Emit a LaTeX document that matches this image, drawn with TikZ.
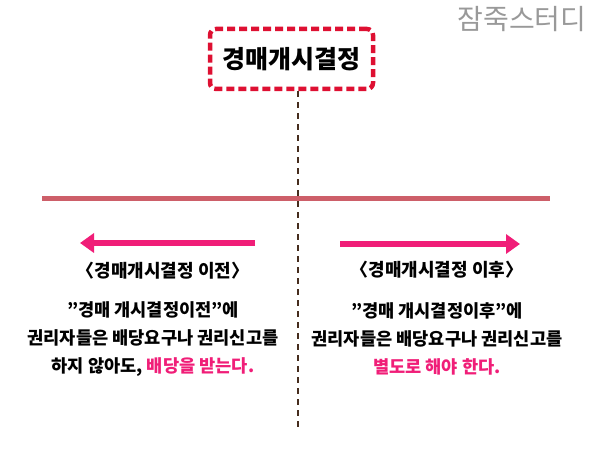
\documentclass[tikz,border=0pt]{standalone}
\usepackage{fontspec}
\setmainfont{Noto Sans CJK KR}
\usetikzlibrary{arrows.meta}
\definecolor{boxred}{RGB}{222,16,50}
\definecolor{stembrown}{RGB}{70,45,30}
\definecolor{axisred}{RGB}{205,95,105}
\definecolor{hotpink}{RGB}{240,30,120}
\tikzset{
  pinkarrow/.style={hotpink,line width=6pt,-{Triangle[length=14pt,width=19pt]}},
  period/.style={font=\bfseries\fontsize{18}{18}\selectfont},
  body/.style={align=center,font=\bfseries\fontsize{17.6}{28}\selectfont}
}

\begin{document}
\begin{tikzpicture}[x=1pt,y=-1pt]
\useasboundingbox (0,0) rectangle (600,454);
\node[text=black!40,font=\fontsize{28}{28}\selectfont] (study) at (522,19) {잠죽스터디};
\node[draw=boxred,line width=4.5pt,dash pattern=on 8pt off 4pt,rounded corners=6pt,minimum width=163pt,minimum height=60pt,font=\bfseries\fontsize{25}{25}\selectfont] (title) at (291.5,59) {경매개시결정};

\coordinate (stembot) at (298,430);
\coordinate (axisL) at (42,199);
\coordinate (axisR) at (550,199);
\coordinate (beforeL) at (80,243);
\coordinate (beforeR) at (255,243);
\coordinate (afterL) at (340,244);
\coordinate (afterR) at (520,244);

\draw[stembrown,line width=2pt,dash pattern=on 6pt off 5pt] (title.south -| stembot) -- (stembot);
\draw[axisred,line width=5pt] (axisL) -- (axisR);
\draw[pinkarrow] (beforeR) -- (beforeL);
\draw[pinkarrow] (afterL) -- (afterR);

\node[period] (before) at (163,271) {〈경매개시결정 이전〉};
\node[period] (after) at (437,270) {〈경매개시결정 이후〉};

\node[body] (beforetext) at (153,339) {"경매 개시결정이전"에\\권리자들은 배당요구나 권리신고를\\하지 않아도, \textcolor{hotpink}{배당을 받는다.}};
\node[body] (aftertext) at (437,339) {"경매 개시결정이후"에\\권리자들은 배당요구나 권리신고를\\\textcolor{hotpink}{별도로 해야 한다.}};
\end{tikzpicture}
\end{document}
